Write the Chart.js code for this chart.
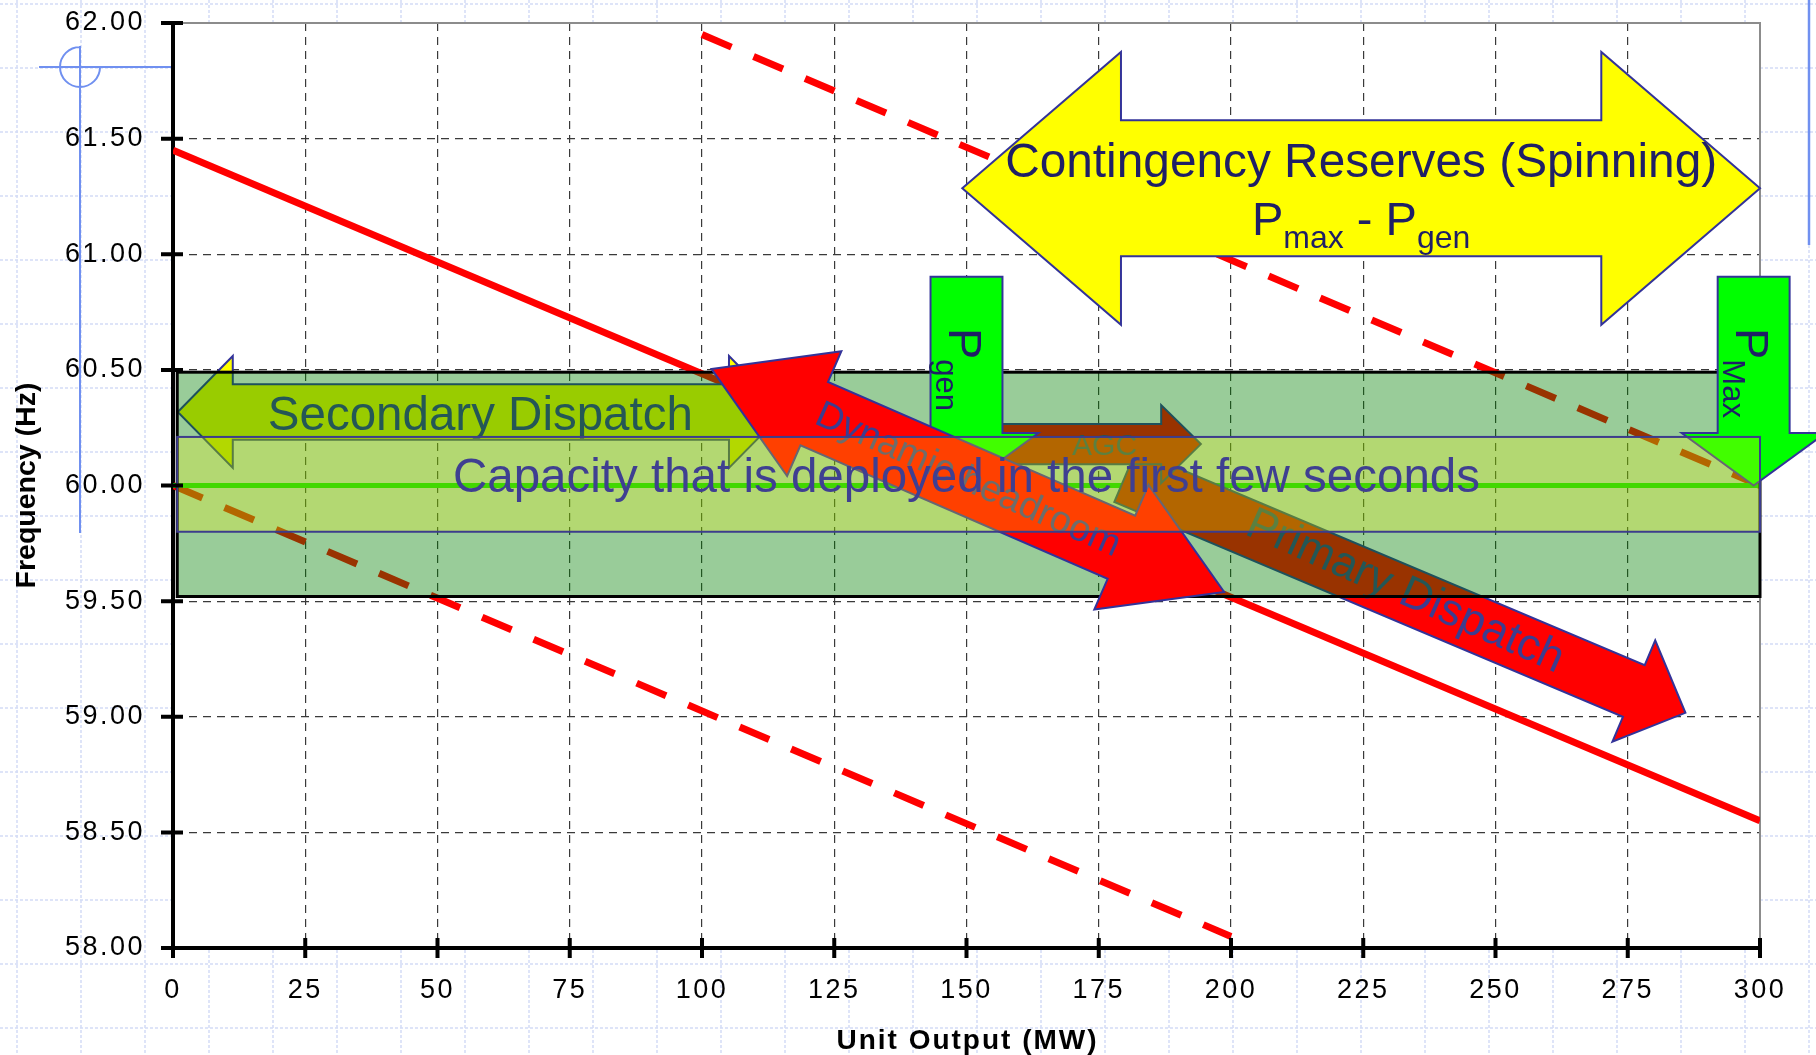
<!DOCTYPE html>
<html>
<head>
<meta charset="utf-8">
<title>Unit droop and reserve categories</title>
<script src="https://cdn.jsdelivr.net/npm/chart.js@4.4.1/dist/chart.umd.min.js"></script>
<style>
  html, body { margin: 0; padding: 0; background: #fff; }
  #wrap { width: 1816px; height: 1055px; }
</style>
</head>
<body>
<div id="wrap"><canvas id="droop-chart" width="1816" height="1055"></canvas></div>
<script>
// Droop characteristic of the unit (MW vs Hz)
const droopMW = [0, 300];
const droopHz = [61.45, 58.55];
// Same droop shifted up to Pmax (upper dashed) and down (lower dashed)
const upperMW = [100, 300];
const upperHz = [61.95, 60.00];
const lowerMW = [0, 200];
const lowerHz = [60.00, 58.05];
// Nominal frequency
const nominalMW = [0, 300];
const nominalHz = [60, 60];

// Regulation band and "first few seconds" band
const regulationMW = [0.8, 300];
const regulationHz = [59.52, 60.49];
const deployMW = [0.8, 300];
const deployHz = [59.80, 60.21];

// Axis ticks
const mwTicks = [0, 25, 50, 75, 100, 125, 150, 175, 200, 225, 250, 275, 300];
const hzTicks = [58, 58.5, 59, 59.5, 60, 60.5, 61, 61.5, 62];
const hzTickLabels = ['58.00', '58.50', '59.00', '59.50', '60.00', '60.50', '61.00', '61.50', '62.00'];

// Annotation shapes, anchored in chart units (MW, Hz)
const contingencyArrow = { tipMW: [149.2, 300], headMW: [179.2, 270], hz: 61.285, headHz: 0.59, shaftHz: 0.294 };
const secondaryArrow = { tipMW: [0.9, 115.5], headMW: [11.3, 105.1], hz: 60.318, headHz: 0.242, shaftHz: 0.12 };
const agcArrow = { tailMW: 150, headMW: 186.8, tipMW: 194.3, hz: 60.179, headHz: 0.169, shaftHz: 0.087 };
const pgenArrow = { mw: 150, boxMW: 6.8, headMW: 13.6, topHz: 60.903, baseHz: 60.227, tipHz: 60.0 };
const pmaxArrow = { mw: 298.8, boxMW: 6.8, headMW: 13.6, topHz: 60.903, baseHz: 60.227, tipHz: 60.0 };
const headroomArrow = { from: [101.8, 60.504], to: [198.7, 59.54] };
const primaryArrow = { from: [180, 60.04], to: [285.9, 59.017] };

const NAVY = '#333399';
const TEXT_NAVY = '#3d3d8f';
const DARK_NAVY = '#1f1f66';
const FONT = '"Liberation Sans", Arial, Helvetica, sans-serif';

Chart.defaults.font.family = FONT;
Chart.defaults.color = '#000';

const toPoints = (xs, ys) => xs.map((x, i) => ({ x, y: ys[i] }));

// Helper: fill and outline a polygon given in pixels
const drawShape = (ctx, pts, fill, stroke, width) => {
    ctx.beginPath();
    pts.forEach(([x, y], i) => (i ? ctx.lineTo(x, y) : ctx.moveTo(x, y)));
    ctx.closePath();
    ctx.fillStyle = fill;
    ctx.fill();
    if (stroke) {
        ctx.lineWidth = width;
        ctx.strokeStyle = stroke;
        ctx.lineJoin = 'miter';
        ctx.stroke();
    }
};

// Helper: arrow along the line a -> b (pixels), optional head at a too
const slantArrow = (a, b, headLen, headHalf, shaftHalf, doubleHead) => {
    const len = Math.hypot(b[0] - a[0], b[1] - a[1]);
    const ux = (b[0] - a[0]) / len, uy = (b[1] - a[1]) / len;
    const at = (p, along, across) => [p[0] + ux * along - uy * across, p[1] + uy * along + ux * across];
    const pts = doubleHead
        ? [a, at(a, headLen, -headHalf), at(a, headLen, -shaftHalf)]
        : [at(a, 0, -shaftHalf)];
    pts.push(at(b, -headLen, -shaftHalf), at(b, -headLen, -headHalf), b,
             at(b, -headLen, headHalf), at(b, -headLen, shaftHalf));
    if (doubleHead) pts.push(at(a, headLen, shaftHalf), at(a, headLen, headHalf));
    else pts.push(at(a, 0, shaftHalf));
    return pts;
};

const text = (ctx, str, x, y, size, color, opts = {}) => {
    ctx.save();
    ctx.translate(x, y);
    if (opts.angle) ctx.rotate(opts.angle);
    ctx.letterSpacing = (opts.spacing || 0) + 'px';
    ctx.font = (opts.bold ? 'bold ' : '') + size + 'px ' + FONT;
    ctx.fillStyle = color;
    ctx.textAlign = opts.align || 'center';
    ctx.textBaseline = opts.baseline || 'alphabetic';
    ctx.fillText(str, 0, 0);
    ctx.restore();
};

// "P" with subscript parts, laid out along the local x axis
const subText = (ctx, parts, x, y, color, angle, align) => {
    ctx.save();
    ctx.translate(x, y);
    if (angle) ctx.rotate(angle);
    ctx.letterSpacing = '0px';
    ctx.fillStyle = color;
    ctx.textAlign = 'left';
    ctx.textBaseline = 'alphabetic';
    const widths = parts.map(p => { ctx.font = p.size + 'px ' + FONT; return ctx.measureText(p.t).width; });
    let cx = align === 'center' ? -widths.reduce((s, w) => s + w, 0) / 2 : 0;
    parts.forEach((p, i) => {
        ctx.font = p.size + 'px ' + FONT;
        ctx.fillText(p.t, cx, p.drop || 0);
        cx += widths[i];
    });
    ctx.restore();
};

const slidePlugin = {
    id: 'slide',
    beforeDraw(chart) {
        const { ctx, chartArea: a, width, height } = chart;
        ctx.save();
        ctx.fillStyle = '#fff';
        ctx.fillRect(0, 0, width, height);
        // faint slide grid behind the chart
        ctx.strokeStyle = '#d4dcf6';
        ctx.lineWidth = 1.5;
        ctx.setLineDash([3, 2]);
        ctx.beginPath();
        for (let x = 17; x < width; x += 64) { ctx.moveTo(x, 0); ctx.lineTo(x, height); }
        for (let y = 4; y < height; y += 64) { ctx.moveTo(0, y); ctx.lineTo(width, y); }
        ctx.stroke();
        ctx.setLineDash([]);
        ctx.fillStyle = '#fff';
        ctx.fillRect(a.left, a.top, a.right - a.left, a.bottom - a.top);
        ctx.restore();
        ctx.letterSpacing = '2.5px'; // tick labels are tracked out
    },
    beforeDatasetsDraw(chart) {
        const { ctx, chartArea: a } = chart;
        ctx.save();
        ctx.strokeStyle = '#8c8c8c';
        ctx.lineWidth = 2;
        ctx.beginPath();
        ctx.moveTo(a.left, a.top);
        ctx.lineTo(a.right, a.top);
        ctx.lineTo(a.right, a.bottom);
        ctx.stroke();
        ctx.restore();
    },
    afterDatasetsDraw(chart) {
        const { ctx } = chart;
        const X = v => chart.scales.x.getPixelForValue(v);
        const Y = v => chart.scales.y.getPixelForValue(v);
        ctx.save();
        ctx.letterSpacing = '0px';

        // --- shapes that sit under the regulation band ---
        const s = secondaryArrow;
        drawShape(ctx, [
            [X(s.tipMW[0]), Y(s.hz)], [X(s.headMW[0]), Y(s.hz + s.headHz)], [X(s.headMW[0]), Y(s.hz + s.shaftHz)],
            [X(s.headMW[1]), Y(s.hz + s.shaftHz)], [X(s.headMW[1]), Y(s.hz + s.headHz)], [X(s.tipMW[1]), Y(s.hz)],
            [X(s.headMW[1]), Y(s.hz - s.headHz)], [X(s.headMW[1]), Y(s.hz - s.shaftHz)],
            [X(s.headMW[0]), Y(s.hz - s.shaftHz)], [X(s.headMW[0]), Y(s.hz - s.headHz)]
        ], '#ffff00', NAVY, 2);
        text(ctx, 'Secondary Dispatch', X(58.1), Y(60.24), 47.5, TEXT_NAVY);

        const p = primaryArrow;
        drawShape(ctx, slantArrow([X(p.from[0]), Y(p.from[1])], [X(p.to[0]), Y(p.to[1])], 56, 55, 28, false),
                  '#ff0000', NAVY, 2);
        text(ctx, 'Primary Dispatch', X(232.9), Y(59.539), 45, TEXT_NAVY,
             { angle: 24 * Math.PI / 180, baseline: 'middle' });

        const g = agcArrow;
        drawShape(ctx, [
            [X(g.tailMW), Y(g.hz + g.shaftHz)], [X(g.headMW), Y(g.hz + g.shaftHz)], [X(g.headMW), Y(g.hz + g.headHz)],
            [X(g.tipMW), Y(g.hz)], [X(g.headMW), Y(g.hz - g.headHz)], [X(g.headMW), Y(g.hz - g.shaftHz)],
            [X(g.tailMW), Y(g.hz - g.shaftHz)]
        ], '#ff0000', NAVY, 2);
        text(ctx, 'AGC', X(176.1), Y(60.132), 30, TEXT_NAVY);

        // --- regulation band ---
        const bx = X(regulationMW[0]), by = Y(regulationHz[1]);
        const bw = X(regulationMW[1]) - bx, bh = Y(regulationHz[0]) - by;
        ctx.fillStyle = 'rgba(0,128,0,0.4)';
        ctx.fillRect(bx, by, bw, bh);
        ctx.strokeStyle = '#000';
        ctx.lineWidth = 3;
        ctx.strokeRect(bx, by, bw, bh);

        // --- Pgen / Pmax markers ---
        [pgenArrow, pmaxArrow].forEach((m, i) => {
            drawShape(ctx, [
                [X(m.mw - m.boxMW), Y(m.topHz)], [X(m.mw + m.boxMW), Y(m.topHz)], [X(m.mw + m.boxMW), Y(m.baseHz)],
                [X(m.mw + m.headMW), Y(m.baseHz)], [X(m.mw), Y(m.tipHz)], [X(m.mw - m.headMW), Y(m.baseHz)],
                [X(m.mw - m.boxMW), Y(m.baseHz)]
            ], '#00ff00', NAVY, 2);
            subText(ctx, [{ t: 'P', size: 47 }, { t: i ? 'Max' : 'gen', size: 31, drop: 13 }],
                    X(m.mw) - 18, Y(60.681), DARK_NAVY, Math.PI / 2, 'left');
        });

        // --- dynamic headroom ---
        const h = headroomArrow;
        const ha = [X(h.from[0]), Y(h.from[1])], hb = [X(h.to[0]), Y(h.to[1])];
        drawShape(ctx, slantArrow(ha, hb, 112, 68, 34.5, true), '#ff0000', NAVY, 2);
        text(ctx, 'Dynamic headroom', (ha[0] + hb[0]) / 2, (ha[1] + hb[1]) / 2, 38, TEXT_NAVY,
             { angle: 24 * Math.PI / 180, baseline: 'middle' });

        // --- first-seconds band ---
        const dx = X(deployMW[0]), dy = Y(deployHz[1]);
        const dw = X(deployMW[1]) - dx, dh = Y(deployHz[0]) - dy;
        ctx.fillStyle = 'rgba(255,251,0,0.255)';
        ctx.fillRect(dx, dy, dw, dh);
        ctx.strokeStyle = '#3c3c8c';
        ctx.lineWidth = 2;
        ctx.strokeRect(dx, dy, dw, dh);
        text(ctx, 'Capacity that is deployed in the first few seconds', X(150), Y(59.972), 47.5, '#3f3f91');

        // --- contingency reserves ---
        const c = contingencyArrow;
        drawShape(ctx, [
            [X(c.tipMW[0]), Y(c.hz)], [X(c.headMW[0]), Y(c.hz + c.headHz)], [X(c.headMW[0]), Y(c.hz + c.shaftHz)],
            [X(c.headMW[1]), Y(c.hz + c.shaftHz)], [X(c.headMW[1]), Y(c.hz + c.headHz)], [X(c.tipMW[1]), Y(c.hz)],
            [X(c.headMW[1]), Y(c.hz - c.headHz)], [X(c.headMW[1]), Y(c.hz - c.shaftHz)],
            [X(c.headMW[0]), Y(c.hz - c.shaftHz)], [X(c.headMW[0]), Y(c.hz - c.headHz)]
        ], '#ffff00', NAVY, 2);
        const cx = (X(c.tipMW[0]) + X(c.tipMW[1])) / 2;
        text(ctx, 'Contingency Reserves (Spinning)', cx, Y(61.335), 47.8, DARK_NAVY);
        subText(ctx, [{ t: 'P', size: 47 }, { t: 'max', size: 32, drop: 13 }, { t: ' - P', size: 47 },
                      { t: 'gen', size: 32, drop: 13 }], cx, Y(61.083), DARK_NAVY, 0, 'center');
        ctx.restore();
    },
    afterDraw(chart) {
        const { ctx, chartArea: a } = chart;
        const xs = chart.scales.x, ys = chart.scales.y;
        ctx.save();
        // cross tick marks on both axes
        ctx.strokeStyle = '#000';
        ctx.lineWidth = 4;
        ctx.beginPath();
        ys.ticks.forEach(t => { const y = ys.getPixelForValue(t.value); ctx.moveTo(a.left - 12, y); ctx.lineTo(a.left + 10, y); });
        xs.ticks.forEach(t => { const x = xs.getPixelForValue(t.value); ctx.moveTo(x, a.bottom - 10); ctx.lineTo(x, a.bottom + 10); });
        ctx.stroke();

        // axis titles
        text(ctx, 'Frequency (Hz)', 35, (a.top + a.bottom) / 2, 28.5, '#000', { bold: true, angle: -Math.PI / 2 });
        text(ctx, 'Unit Output (MW)', (a.left + a.right) / 2 + 1, 1049, 28, '#000', { bold: true, spacing: 2 });

        // stray slide guides (blue)
        ctx.strokeStyle = '#7090f0';
        ctx.lineWidth = 2;
        ctx.beginPath();
        ctx.moveTo(39, 67); ctx.lineTo(a.left - 2, 67);
        ctx.moveTo(80, 46); ctx.lineTo(80, 533);
        ctx.moveTo(100, 67);
        ctx.arc(80, 67, 20, 0, 1.5 * Math.PI);
        ctx.stroke();
        ctx.lineWidth = 2.5;
        ctx.beginPath();
        ctx.moveTo(1809, 0); ctx.lineTo(1809, 245);
        ctx.stroke();
        ctx.restore();
    }
};

const lineSet = (label, xs, ys, color, width, dash) => ({
    label,
    data: toPoints(xs, ys),
    showLine: true,
    borderColor: color,
    borderWidth: width,
    borderDash: dash || [],
    pointRadius: 0,
    fill: false,
    tension: 0,
});

const gridColor = edges => c => (c.tick && edges.includes(c.tick.value) ? 'rgba(0,0,0,0)' : '#3a3a3a');

new Chart(document.getElementById('droop-chart'), {
    type: 'scatter',
    data: {
        datasets: [
            lineSet('Nominal 60 Hz', nominalMW, nominalHz, '#00ff00', 5),
            lineSet('Droop', droopMW, droopHz, '#ff0000', 7),
            lineSet('Droop at Pmax', upperMW, upperHz, '#ff0000', 7, [32, 24]),
            lineSet('Droop at zero', lowerMW, lowerHz, '#ff0000', 7, [32, 24]),
        ],
    },
    options: {
        responsive: false,
        animation: false,
        devicePixelRatio: 1,
        events: [],
        layout: { padding: { top: 23, right: 56, bottom: 0, left: 0 } },
        plugins: { legend: { display: false }, tooltip: { enabled: false } },
        scales: {
            x: {
                type: 'linear',
                min: 0,
                max: 300,
                afterBuildTicks: scale => { scale.ticks = mwTicks.map(value => ({ value })); },
                afterFit: scale => { scale.height = 107; scale.paddingLeft = 0; scale.paddingRight = 0; },
                grid: { color: gridColor([0, 300]), lineWidth: 1.2, drawTicks: false },
                border: { display: true, color: '#000', width: 4, dash: [8, 6] },
                ticks: { font: { size: 27 }, color: '#000', padding: 26, maxRotation: 0, autoSkip: false },
            },
            y: {
                type: 'linear',
                min: 58,
                max: 62,
                afterBuildTicks: scale => { scale.ticks = hzTicks.map(value => ({ value })); },
                afterFit: scale => { scale.width = 173; scale.paddingTop = 0; scale.paddingBottom = 0; },
                grid: { color: gridColor([58, 62]), lineWidth: 1.2, drawTicks: false },
                border: { display: true, color: '#000', width: 4, dash: [8, 6] },
                ticks: {
                    font: { size: 27 },
                    color: '#000',
                    padding: 28,
                    autoSkip: false,
                    callback: value => hzTickLabels[hzTicks.indexOf(value)] ?? value,
                },
            },
        },
    },
    plugins: [slidePlugin],
});
</script>
</body>
</html>
